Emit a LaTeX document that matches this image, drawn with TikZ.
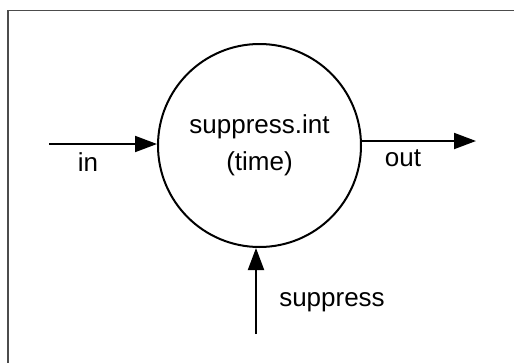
\documentclass[tikz,border=0pt]{standalone}
\usepackage{fontspec}
\setmainfont{Liberation Sans}
\usetikzlibrary{arrows.meta}
\begin{document}
\begin{tikzpicture}[x=1pt,y=-1pt,
  flow/.style={line width=2pt,-{Triangle[length=22pt,width=16pt]}},
  lbl/.style={font=\fontsize{26}{37}\selectfont,inner sep=0pt,anchor=center},
  frame/.style={draw=black!70,line width=1.6pt}]
\useasboundingbox (0,0) rectangle (514,362);
\draw[frame] (8,380) -- (8,10.5) -- (530,10.5);
\node[circle,draw,line width=2pt,minimum size=203pt,inner sep=0pt,
  font=\fontsize{26}{37}\selectfont,align=center] (proc) at (259.5,145.5) {suppress.int\\(time)};
\coordinate (inStart) at (49,144);
\coordinate (outEnd) at (476,141);
\coordinate (supStart) at (256,334);
\draw[flow] (inStart) -- (inStart -| proc.west);
\draw[flow] (outEnd -| proc.east) -- (outEnd);
\draw[flow] (supStart) -- (supStart |- proc.south);
\node[lbl] (inLbl) at (88,162) {in};
\node[lbl] (outLbl) at (403,158) {out};
\node[lbl] (supLbl) at (332,302) {suppress};
\end{tikzpicture}
\end{document}
